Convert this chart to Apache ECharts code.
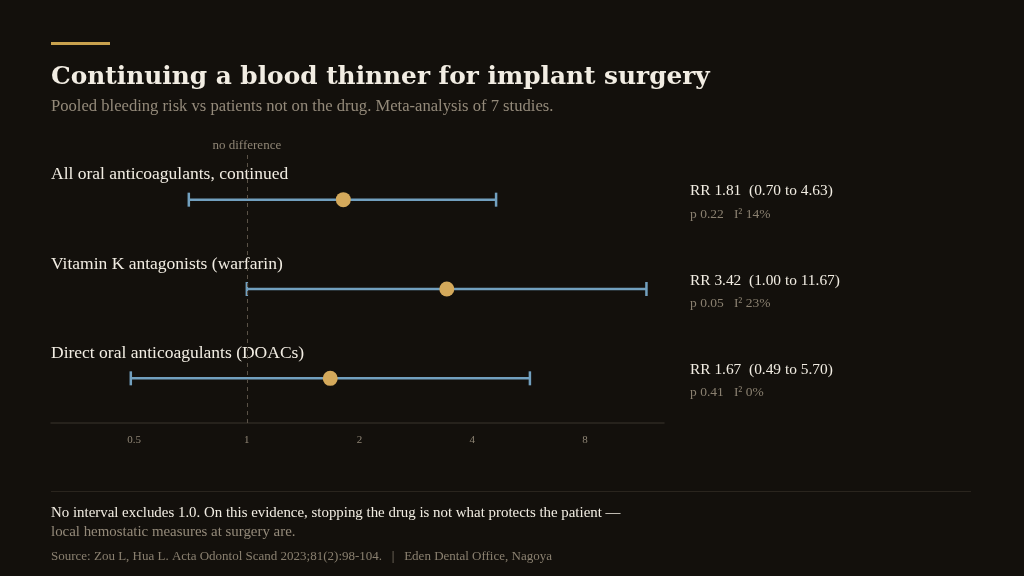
<!DOCTYPE html>
<html>
<head>
<meta charset="UTF-8"/>
<title>Continuing a blood thinner for implant surgery</title>
<script src="https://cdn.jsdelivr.net/npm/echarts@6/dist/echarts.min.js"></script>
<style>
html,body{margin:0;padding:0;background:#13100c;}
#chart{width:1024px;height:576px;}
</style>
</head>
<body>
<div id="chart"></div>
<script>
// pooled results, one row per drug group (top to bottom)
var groups = ['All oral anticoagulants, continued', 'Vitamin K antagonists (warfarin)', 'Direct oral anticoagulants (DOACs)'];
var rr = [1.81, 3.42, 1.67];
var lower = [0.70, 1.00, 0.49];
var upper = [4.63, 11.67, 5.70];
var pValues = ['0.22', '0.05', '0.41'];
var i2 = ['14%', '23%', '0%'];
var tickValues = [0.5, 1, 2, 4, 8];

var serif = "'Liberation Serif', 'DejaVu Serif', serif";
var titleFont = "'DejaVu Serif', 'Liberation Serif', serif";
var chart = echarts.init(document.getElementById('chart'));

// category axis runs bottom->top, so reverse order
var cats = groups.slice().reverse();
var idx = function (i) { return groups.length - 1 - i; };

var barData = [], dotData = [], rightLabels = [];
for (var i = 0; i < groups.length; i++) {
  barData.push([lower[i], upper[i], idx(i)]);
  dotData.push([rr[i], idx(i)]);
}
for (var j = groups.length - 1; j >= 0; j--) {
  rightLabels.push('{s| }\n{a|RR ' + rr[j].toFixed(2) + '  (' + lower[j].toFixed(2) + ' to ' + upper[j].toFixed(2) + ')}\n{b|p ' + pValues[j] + '   I² ' + i2[j] + '}');
}

var option = {
  backgroundColor: '#13100c',
  animation: false,
  textStyle: { fontFamily: serif },
  graphic: [
    { type: 'rect', left: 51, top: 42, shape: { width: 59, height: 3 }, style: { fill: '#c9a24e' } },
    { type: 'text', left: 51, top: 65, style: { text: 'Continuing a blood thinner for implant surgery', fill: '#f2ede3', font: 'bold 24.8px ' + titleFont } },
    { type: 'text', left: 51, top: 98, style: { text: 'Pooled bleeding risk vs patients not on the drug. Meta-analysis of 7 studies.', fill: '#948a7a', font: '16.6px ' + serif } },
    { type: 'rect', left: 51, top: 491, shape: { width: 920, height: 1 }, style: { fill: '#2a251e' } },
    { type: 'text', left: 51, top: 506, style: { text: 'No interval excludes 1.0. On this evidence, stopping the drug is not what protects the patient —', fill: '#f2ede3', font: '14.9px ' + serif } },
    { type: 'text', left: 51, top: 525, style: { text: 'local hemostatic measures at surgery are.', fill: '#948a7a', font: '14.9px ' + serif } },
    { type: 'text', left: 51, top: 550, style: { text: 'Source: Zou L, Hua L. Acta Odontol Scand 2023;81(2):98-104.   |   Eden Dental Office, Nagoya', fill: '#8a8070', font: '13px ' + serif } }
  ],
  grid: { left: 51, right: 360, top: 155, bottom: 153 },
  xAxis: {
    type: 'log',
    logBase: 2,
    min: 0.3,
    max: 13,
    splitNumber: 5,
    axisLine: { show: true, lineStyle: { color: '#2e2922', width: 1.5 } },
    axisTick: { show: false },
    splitLine: { show: false },
    axisLabel: {
      color: '#8f8575', fontSize: 11, margin: 12, showMinLabel: false, showMaxLabel: false,
      formatter: function (v) {
        for (var k = 0; k < tickValues.length; k++) {
          if (Math.abs(v - tickValues[k]) < 1e-6) return String(tickValues[k]);
        }
        return '';
      }
    }
  },
  yAxis: [{
    type: 'category',
    data: cats,
    axisLine: { show: false },
    axisTick: { show: false },
    splitLine: { show: false },
    axisLabel: {
      inside: true, margin: 0, align: 'left', verticalAlign: 'middle',
      formatter: function (v) { return '{t|' + v + '}\n{s| }'; },
      rich: {
        t: { color: '#f2ede3', fontSize: 17.5, fontFamily: serif, lineHeight: 20 },
        s: { fontSize: 10, lineHeight: 50 }
      }
    }
  }, {
    type: 'category',
    data: rightLabels,
    position: 'right',
    axisLine: { show: false },
    axisTick: { show: false },
    splitLine: { show: false },
    axisLabel: {
      margin: 26, align: 'left',
      rich: {
        s: { fontSize: 4, lineHeight: 6 },
        a: { color: '#f2ede3', fontSize: 15.4, fontFamily: serif, lineHeight: 23 },
        b: { color: '#8a8070', fontSize: 13.5, fontFamily: serif, lineHeight: 23 }
      }
    }
  }],
  series: [{
    type: 'custom',
    name: 'CI',
    data: barData,
    encode: { x: [0, 1], y: 2 },
    renderItem: function (params, api) {
      var y = api.value(2);
      var a = api.coord([api.value(0), y]);
      var b = api.coord([api.value(1), y]);
      var h = 7;
      var st = { stroke: '#72a0bf', lineWidth: 2.5 };
      return {
        type: 'group',
        children: [
          { type: 'line', shape: { x1: a[0], y1: a[1], x2: b[0], y2: b[1] }, style: st },
          { type: 'line', shape: { x1: a[0], y1: a[1] - h, x2: a[0], y2: a[1] + h }, style: st },
          { type: 'line', shape: { x1: b[0], y1: b[1] - h, x2: b[0], y2: b[1] + h }, style: st }
        ]
      };
    },
    z: 2
  }, {
    type: 'scatter',
    name: 'RR',
    data: dotData,
    symbolSize: 15,
    itemStyle: { color: '#d4a95b', opacity: 1 },
    z: 3,
    markLine: {
      silent: true,
      symbol: 'none',
      lineStyle: { color: '#5a5247', type: [4, 4], width: 1 },
      label: { show: true, position: 'end', formatter: 'no difference', color: '#8f8575', fontSize: 13, distance: 3 },
      data: [{ xAxis: 1 }]
    }
  }]
};
chart.setOption(option);
</script>
</body>
</html>
